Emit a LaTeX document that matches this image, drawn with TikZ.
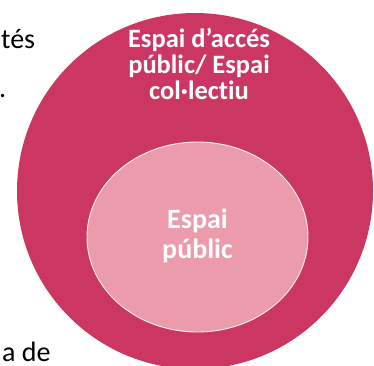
\documentclass[tikz,border=0pt]{standalone}
\usepackage{fontspec}
\setmainfont[Ligatures=NoCommon]{Carlito}
\usetikzlibrary{shapes.geometric}
\definecolor{outerc}{RGB}{204,54,98}
\definecolor{innerc}{RGB}{236,155,172}
\tikzset{
  outerset/.style={circle, fill=outerc, inner sep=0pt, minimum size=356pt},
  innerset/.style={ellipse, fill=innerc, draw=white!85!innerc, line width=0.9pt, inner sep=0pt, minimum width=221pt, minimum height=190pt},
  label/.style={text=white, font=\bfseries\fontsize{26.5}{26}\selectfont, align=center, inner sep=0pt},
  innerlabel/.style={text=white, font=\bfseries\fontsize{28}{30}\selectfont, align=center, inner sep=0pt},
  bodytext/.style={text=black, font=\fontsize{28}{30}\selectfont, inner sep=0pt, anchor=base west}
}
\begin{document}
\begin{tikzpicture}[x=1pt,y=-1pt]
\useasboundingbox (0,0) rectangle (374,365);
\clip (0,0) rectangle (374,365);
\node[outerset] (outer) at (195,191) {};
\node[innerset] (inner) at (197.5,237) {};
\node[label] (outertext) at (199,64) {Espai d’accés\\públic/ Espai\\col·lectiu};
\node[innerlabel] (innertext) at (197.5,236) {Espai\\públic};
\node[bodytext] (t1) at (1,48) {tés};
\node[bodytext] (t2) at (-1,97) {.};
\node[bodytext] (t3) at (2,361) {a de};
\end{tikzpicture}
\end{document}
